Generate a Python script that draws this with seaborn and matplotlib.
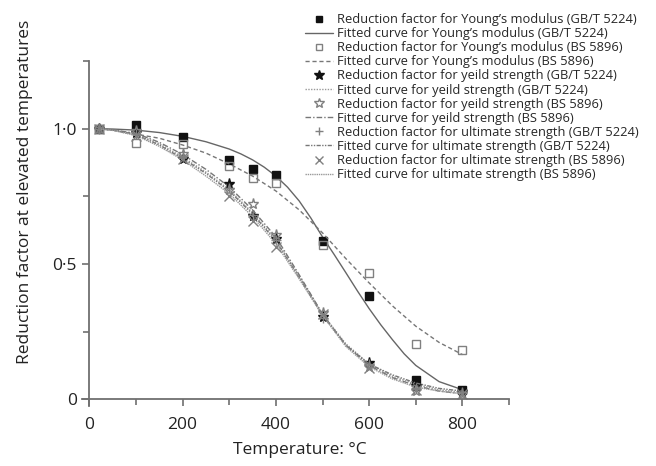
import numpy as np
import matplotlib
matplotlib.use("Agg")
import matplotlib.pyplot as plt
from matplotlib.lines import Line2D
from matplotlib.ticker import MultipleLocator
import pandas as pd
import seaborn as sns

sns.set_style('ticks')
plt.rcParams['font.family'] = ['Open Sans', 'DejaVu Sans']

# test data (reduction factors)
temps = [20, 100, 200, 300, 350, 400, 500, 600, 700, 800]
young_gb = [1.0, 1.015, 0.97, 0.885, 0.852, 0.83, 0.585, 0.38, 0.072, 0.035]
young_bs = [1.0, 0.948, 0.942, 0.862, 0.818, 0.80, 0.571, 0.467, 0.205, 0.183]
yield_gb = [1.0, 0.985, 0.889, 0.794, 0.676, 0.593, 0.305, 0.135, 0.048, 0.025]
yield_bs = [1.0, 0.99, 0.905, 0.775, 0.72, 0.608, 0.32, 0.12, 0.032, 0.02]
ult_gb = [1.0, 0.98, 0.90, 0.78, 0.68, 0.59, 0.30, 0.13, 0.04, 0.025]
ult_bs = [1.0, 0.975, 0.89, 0.753, 0.658, 0.563, 0.315, 0.115, 0.035, 0.02]

# fitted curves
temps_fit = [20, 50, 100, 150, 200, 250, 300, 350, 400, 450, 500, 550, 600, 650, 700, 750, 800]
temps_fit_yg = [20, 50, 100, 150, 200, 250, 300, 325, 350, 375, 400, 425, 450, 475, 500, 525,
                550, 575, 600, 625, 650, 675, 700, 750, 800]
young_gb_fit = [1.0, 0.999, 0.995, 0.986, 0.972, 0.952, 0.925, 0.907, 0.885, 0.858, 0.825, 0.784,
                0.733, 0.670, 0.60, 0.535, 0.468, 0.40, 0.335, 0.275, 0.22, 0.168, 0.125, 0.065, 0.035]
young_bs_fit = [1.0, 0.995, 0.98, 0.965, 0.94, 0.91, 0.87, 0.825, 0.77, 0.70, 0.615, 0.52, 0.43, 0.345, 0.27, 0.21, 0.165]
yield_gb_fit = [1.0, 0.995, 0.98, 0.945, 0.895, 0.84, 0.775, 0.69, 0.59, 0.455, 0.315, 0.205, 0.13, 0.085, 0.055, 0.035, 0.025]
yield_bs_fit = [1.0, 0.996, 0.983, 0.95, 0.905, 0.85, 0.785, 0.70, 0.60, 0.46, 0.315, 0.20, 0.125, 0.08, 0.05, 0.03, 0.02]
ult_gb_fit = [1.0, 0.995, 0.978, 0.94, 0.89, 0.835, 0.77, 0.685, 0.585, 0.45, 0.31, 0.20, 0.13, 0.09, 0.06, 0.04, 0.03]
ult_bs_fit = [1.0, 0.994, 0.975, 0.935, 0.885, 0.825, 0.76, 0.675, 0.575, 0.445, 0.31, 0.195, 0.12, 0.075, 0.045, 0.03, 0.02]

labels = ["Reduction factor for Young\u2019s modulus (GB/T 5224)",
          "Fitted curve for Young\u2019s modulus (GB/T 5224)",
          "Reduction factor for Young\u2019s modulus (BS 5896)",
          "Fitted curve for Young\u2019s modulus (BS 5896)",
          "Reduction factor for yeild strength (GB/T 5224)",
          "Fitted curve for yeild strength (GB/T 5224)",
          "Reduction factor for yeild strength (BS 5896)",
          "Fitted curve for yeild strength (BS 5896)",
          "Reduction factor for ultimate strength (GB/T 5224)",
          "Fitted curve for ultimate strength (GB/T 5224)",
          "Reduction factor for ultimate strength (BS 5896)",
          "Fitted curve for ultimate strength (BS 5896)"]

# (points, marker, face, edge, size, fit x, fit y, linestyle, linecolor)
series = [
    (young_gb, 's', '#111111', '#111111', 6, temps_fit_yg, young_gb_fit, '-', '#666666'),
    (young_bs, 's', 'none', '#808080', 6, temps_fit, young_bs_fit, (0, (3, 2)), '#777777'),
    (yield_gb, '*', '#111111', '#111111', 8, temps_fit, yield_gb_fit, (0, (1, 1)), '#999999'),
    (yield_bs, '*', 'none', '#808080', 8, temps_fit, yield_bs_fit, (0, (4, 1.5, 1, 1.5)), '#777777'),
    (ult_gb, '+', '#808080', '#808080', 7, temps_fit, ult_gb_fit, (0, (3, 1, 1, 1, 1, 1)), '#777777'),
    (ult_bs, 'x', '#808080', '#808080', 7, temps_fit, ult_bs_fit, (0, (1, 0.6)), '#999999'),
]

fig = plt.figure(figsize=(6.56, 4.66), dpi=100)
ax = fig.add_axes([0.1255, 0.1288, 0.6505, 0.740])

handles = []
for pts, mk, fc, ec, ms, fx, fy, ls, lc in series:
    sns.lineplot(x=fx, y=fy, ax=ax, color=lc, linestyle=ls, linewidth=1.0,
                 estimator=None, sort=False, legend=False)
    if mk in ('+', 'x'):
        ax.plot(temps, pts, ls='none', marker=mk, color=ec, markersize=ms, mew=1.0)
    else:
        ax.plot(temps, pts, ls='none', marker=mk, markerfacecolor=fc, markeredgecolor=ec,
                markersize=ms, mew=1.0)
    handles.append(Line2D([], [], ls='none', marker=mk,
                          markerfacecolor=fc if mk not in ('+', 'x') else ec,
                          markeredgecolor=ec, color=ec, markersize=ms - 1, mew=1.0))
    handles.append(Line2D([], [], ls=ls, color=lc, linewidth=1.0))

ax.set_xlim(-15, 900)
ax.set_ylim(-0.025, 1.25)
ax.spines['top'].set_visible(False)
ax.spines['right'].set_visible(False)
ax.spines['left'].set_position(('data', 0))
ax.spines['bottom'].set_position(('data', 0))
for s in ('left', 'bottom'):
    ax.spines[s].set_color('#707070')
    ax.spines[s].set_linewidth(1.3)

ax.set_xticks([0, 200, 400, 600, 800])
ax.xaxis.set_minor_locator(MultipleLocator(100))
ax.set_yticks([0, 0.5, 1.0], labels=["0", "0\u00b75", "1\u00b70"])
ax.yaxis.set_minor_locator(MultipleLocator(0.25))
ax.tick_params(which='both', direction='out', color='#707070', width=1.2)
ax.tick_params(which='major', length=5, labelsize=12.5, labelcolor='#222222', pad=4)
ax.tick_params(axis='x', which='major', pad=8)
ax.tick_params(which='minor', length=4)

ax.set_xlabel("Temperature: \u00b0C", fontsize=12.5, color='#222222')
ax.set_ylabel("Reduction factor at elevated temperatures", fontsize=12.5, color='#222222')
ax.yaxis.set_label_coords(-0.1155, 0.62)
ax.xaxis.set_label_coords(0.51, -0.105)

fig.legend(handles, labels, loc='upper left', bbox_to_anchor=(0.465, 0.972),
           frameon=False, fontsize=9.3, handlelength=2.2, handletextpad=0.3,
           labelspacing=0.085, borderpad=0, borderaxespad=0)

fig.savefig("out.png", dpi=100)
